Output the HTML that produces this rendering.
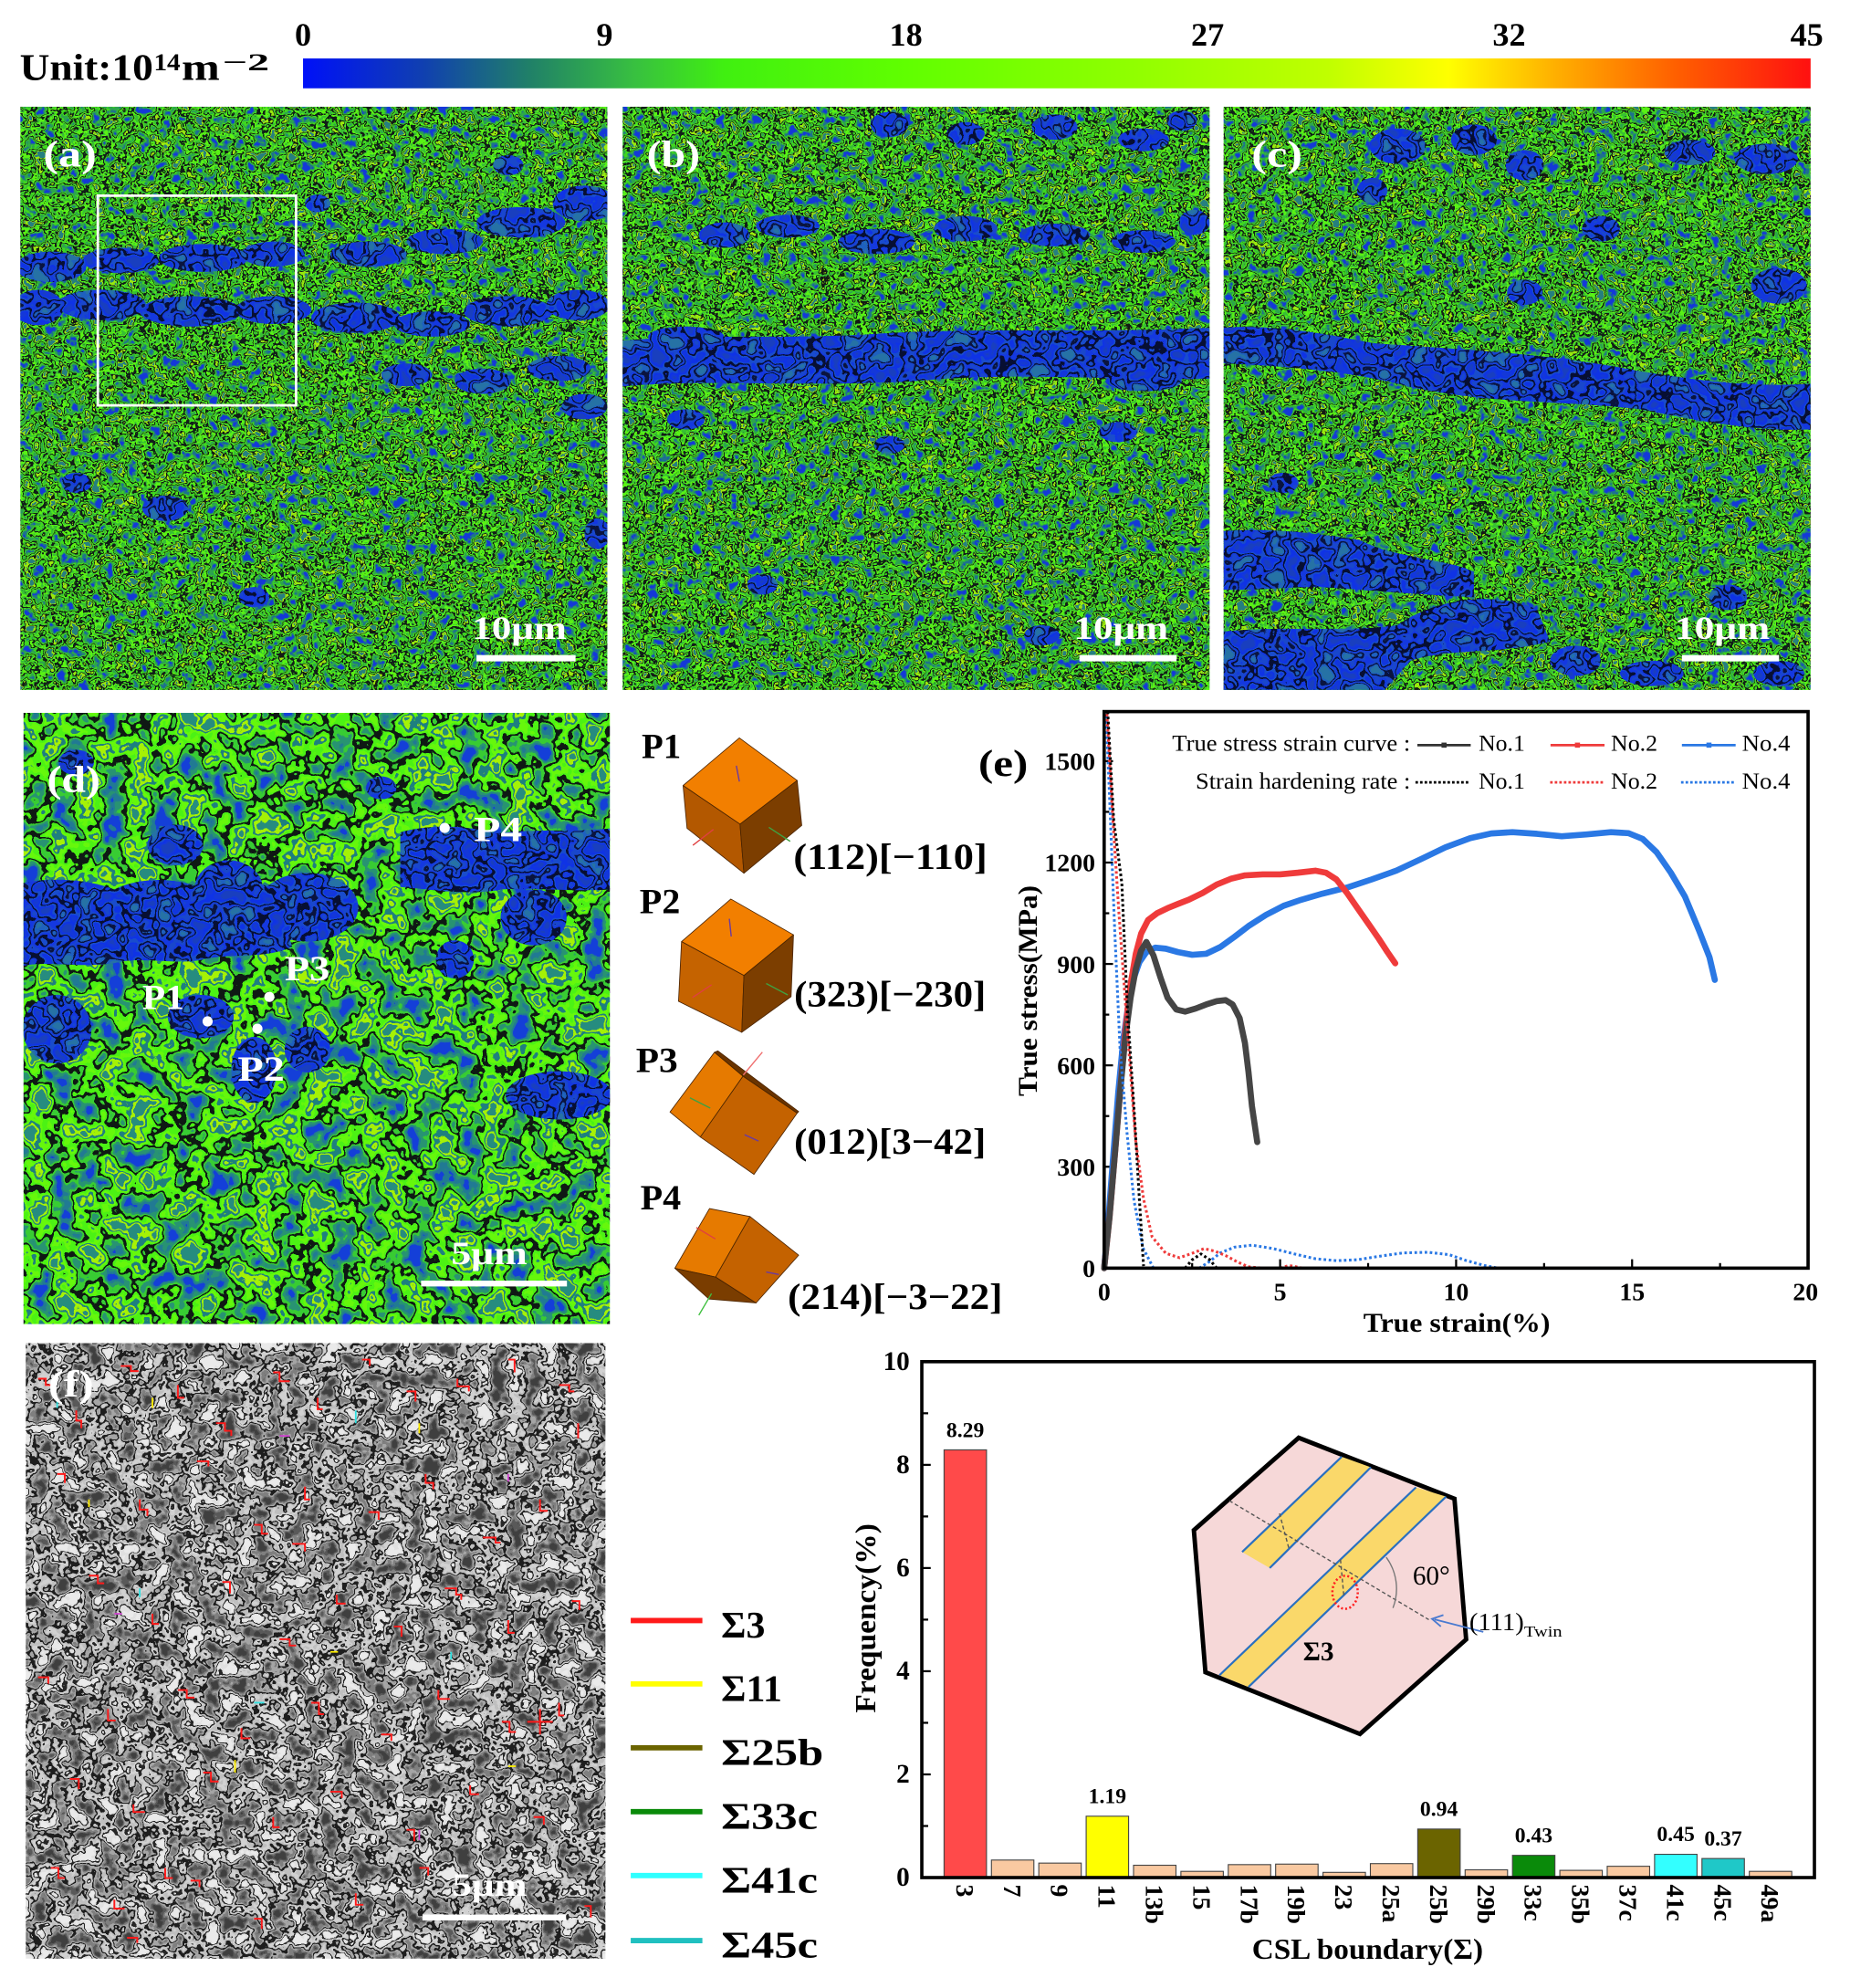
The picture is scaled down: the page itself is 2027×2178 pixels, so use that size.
<!DOCTYPE html>
<html><head><meta charset="utf-8">
<style>
html,body{margin:0;padding:0;background:#fff;}
svg{display:block;font-family:"Liberation Serif","Times New Roman",serif;}
text{font-family:"Liberation Serif","Times New Roman",serif;}
</style></head>
<body>
<svg xmlns="http://www.w3.org/2000/svg" width="2027" height="2178" viewBox="0 0 1456 1564.5" preserveAspectRatio="none" font-family="Liberation Serif, serif">
<defs>
  <linearGradient id="cb" x1="0" y1="0" x2="1" y2="0">
    <stop offset="0" stop-color="#0010f8"/>
    <stop offset="0.08" stop-color="#1040b0"/>
    <stop offset="0.15" stop-color="#208068"/>
    <stop offset="0.22" stop-color="#38c040"/>
    <stop offset="0.28" stop-color="#40f010"/>
    <stop offset="0.4" stop-color="#60ff00"/>
    <stop offset="0.55" stop-color="#90ff00"/>
    <stop offset="0.68" stop-color="#c0ff00"/>
    <stop offset="0.76" stop-color="#ffff00"/>
    <stop offset="0.83" stop-color="#ffb000"/>
    <stop offset="0.91" stop-color="#ff6000"/>
    <stop offset="1" stop-color="#ff1010"/>
  </linearGradient>

  <filter id="tA" x="0" y="0" width="1" height="1" color-interpolation-filters="sRGB">
    <feTurbulence type="fractalNoise" baseFrequency="0.11" numOctaves="3" seed="7"/>
    <feColorMatrix type="matrix" values="1.8 0 0 0 -0.4  1.8 0 0 0 -0.4  1.8 0 0 0 -0.4  0 0 0 0 1"/>
    <feComponentTransfer>
      <feFuncR type="discrete" tableValues="0.08 0.12 0.18 0.25 0.07 0.35 0.22 0.08 0.6 0.15"/>
      <feFuncG type="discrete" tableValues="0.22 0.45 0.65 0.85 0.12 0.95 0.75 0.1 0.92 0.5"/>
      <feFuncB type="discrete" tableValues="0.85 0.55 0.3 0.12 0.1 0.08 0.2 0.08 0.05 0.5"/>
    </feComponentTransfer>
    <feComposite operator="in" in2="SourceGraphic"/>
  </filter>

  <filter id="tD" x="0" y="0" width="1" height="1" color-interpolation-filters="sRGB">
    <feTurbulence type="fractalNoise" baseFrequency="0.05" numOctaves="3" seed="3"/>
    <feColorMatrix type="matrix" values="1.8 0 0 0 -0.4  1.8 0 0 0 -0.4  1.8 0 0 0 -0.4  0 0 0 0 1"/>
    <feComponentTransfer>
      <feFuncR type="discrete" tableValues="0.08 0.13 0.16 0.22 0.06 0.3 0.4 0.12 0.65 0.15"/>
      <feFuncG type="discrete" tableValues="0.25 0.48 0.58 0.8 0.1 0.95 0.97 0.5 0.95 0.55"/>
      <feFuncB type="discrete" tableValues="0.85 0.58 0.45 0.2 0.08 0.08 0.05 0.5 0.02 0.5"/>
    </feComponentTransfer>
    <feComposite operator="in" in2="SourceGraphic"/>
  </filter>

  <filter id="tB" x="-0.05" y="-0.05" width="1.1" height="1.1" color-interpolation-filters="sRGB">
    <feTurbulence type="fractalNoise" baseFrequency="0.08" numOctaves="2" seed="11"/>
    <feColorMatrix type="matrix" values="1.8 0 0 0 -0.4  1.8 0 0 0 -0.4  1.8 0 0 0 -0.4  0 0 0 0 1"/>
    <feComponentTransfer>
      <feFuncR type="discrete" tableValues="0.1 0.08 0.06 0.1 0.03 0.08 0.1 0.04 0.12 0.15"/>
      <feFuncG type="discrete" tableValues="0.25 0.22 0.2 0.3 0.06 0.22 0.28 0.08 0.38 0.45"/>
      <feFuncB type="discrete" tableValues="0.75 0.85 0.9 0.8 0.2 0.88 0.8 0.25 0.75 0.65"/>
    </feComponentTransfer>
    <feComposite operator="in" in2="SourceGraphic"/>
  </filter>

  <filter id="tF" x="0" y="0" width="1" height="1" color-interpolation-filters="sRGB">
    <feTurbulence type="fractalNoise" baseFrequency="0.075" numOctaves="3" seed="5"/>
    <feColorMatrix type="matrix" values="1.8 0 0 0 -0.4  1.8 0 0 0 -0.4  1.8 0 0 0 -0.4  0 0 0 0 1"/>
    <feComponentTransfer>
      <feFuncR type="discrete" tableValues="0.25 0.35 0.5 0.65 0.12 0.75 0.82 0.15 0.88 0.92"/>
      <feFuncG type="discrete" tableValues="0.25 0.35 0.5 0.65 0.12 0.75 0.82 0.15 0.88 0.92"/>
      <feFuncB type="discrete" tableValues="0.25 0.35 0.5 0.65 0.12 0.75 0.82 0.15 0.88 0.92"/>
    </feComponentTransfer>
    <feComposite operator="in" in2="SourceGraphic"/>
  </filter>

  <clipPath id="ca"><rect x="16" y="84" width="462" height="459"/></clipPath>
  <clipPath id="cbp"><rect x="490" y="84" width="462" height="459"/></clipPath>
  <clipPath id="cc"><rect x="963" y="84" width="462" height="459"/></clipPath>
  <clipPath id="cd"><rect x="18.5" y="561" width="461.5" height="481"/></clipPath>
</defs>

<rect x="0" y="0" width="1456" height="1564.5" fill="#fff"/>

<!-- ===== Colorbar ===== -->
<text x="15.5" y="62.7" font-size="30" font-weight="bold" textLength="105" lengthAdjust="spacingAndGlyphs">Unit:10</text>
<text x="121" y="55.5" font-size="19" font-weight="bold" textLength="21" lengthAdjust="spacingAndGlyphs">14</text>
<text x="143" y="62.7" font-size="30" font-weight="bold" textLength="30" lengthAdjust="spacingAndGlyphs">m</text>
<text x="175" y="55.5" font-size="19" font-weight="bold" textLength="37" lengthAdjust="spacingAndGlyphs">−2</text>
<rect x="238.5" y="46" width="1186.5" height="23.5" fill="url(#cb)"/>
<g font-size="26" font-weight="bold" text-anchor="middle">
  <text x="238.5" y="36">0</text>
  <text x="475.8" y="36">9</text>
  <text x="713" y="36">18</text>
  <text x="950.4" y="36">27</text>
  <text x="1187.7" y="36">32</text>
  <text x="1422" y="36">45</text>
</g>

<!-- ===== Panels a, b, c ===== -->
<rect x="16" y="84" width="462" height="459" fill="#3a9a3a" filter="url(#tA)"/>
<rect x="490" y="84" width="462" height="459" fill="#3a9a3a" filter="url(#tA)"/>
<rect x="963" y="84" width="462" height="459" fill="#3a9a3a" filter="url(#tA)"/>

<g clip-path="url(#ca)"><g filter="url(#tB)" fill="#1535d0">
  <ellipse cx="40" cy="210" rx="28" ry="12"/><ellipse cx="95" cy="205" rx="30" ry="10"/>
  <ellipse cx="160" cy="203" rx="35" ry="11"/><ellipse cx="215" cy="200" rx="25" ry="10"/>
  <ellipse cx="30" cy="242" rx="20" ry="14"/><ellipse cx="80" cy="240" rx="35" ry="12"/>
  <ellipse cx="150" cy="245" rx="40" ry="12"/><ellipse cx="215" cy="244" rx="30" ry="11"/>
  <ellipse cx="280" cy="250" rx="35" ry="12"/><ellipse cx="340" cy="255" rx="30" ry="10"/>
  <ellipse cx="400" cy="245" rx="35" ry="12"/><ellipse cx="455" cy="240" rx="25" ry="12"/>
  <ellipse cx="290" cy="200" rx="30" ry="10"/><ellipse cx="350" cy="190" rx="30" ry="10"/>
  <ellipse cx="410" cy="175" rx="35" ry="12"/><ellipse cx="460" cy="160" rx="25" ry="14"/>
  <ellipse cx="320" cy="295" rx="20" ry="9"/><ellipse cx="380" cy="300" rx="22" ry="10"/>
  <ellipse cx="440" cy="290" rx="25" ry="10"/><ellipse cx="460" cy="320" rx="18" ry="10"/>
  <ellipse cx="130" cy="400" rx="18" ry="10"/><ellipse cx="60" cy="380" rx="12" ry="8"/>
  <ellipse cx="470" cy="420" rx="10" ry="12"/><ellipse cx="200" cy="470" rx="12" ry="8"/>
  <ellipse cx="400" cy="130" rx="12" ry="8"/><ellipse cx="250" cy="160" rx="10" ry="7"/>
</g></g>

<g clip-path="url(#cbp)"><g filter="url(#tB)" fill="#1535d0">
  <path d="M490,268 C560,262 620,268 700,262 C780,258 860,262 952,258 L952,298 C880,300 800,292 720,300 C640,305 560,298 490,304 Z"/>
  <ellipse cx="540" cy="265" rx="30" ry="8"/><ellipse cx="900" cy="300" rx="30" ry="8"/>
  <ellipse cx="570" cy="185" rx="20" ry="10"/><ellipse cx="620" cy="178" rx="25" ry="9"/>
  <ellipse cx="690" cy="190" rx="30" ry="10"/><ellipse cx="760" cy="180" rx="25" ry="10"/>
  <ellipse cx="830" cy="185" rx="28" ry="9"/><ellipse cx="900" cy="190" rx="25" ry="9"/>
  <ellipse cx="940" cy="175" rx="12" ry="10"/>
  <ellipse cx="700" cy="98" rx="15" ry="10"/><ellipse cx="760" cy="105" rx="15" ry="9"/>
  <ellipse cx="830" cy="100" rx="18" ry="10"/><ellipse cx="900" cy="110" rx="20" ry="9"/>
  <ellipse cx="930" cy="95" rx="12" ry="8"/>
  <ellipse cx="540" cy="330" rx="15" ry="8"/><ellipse cx="700" cy="350" rx="12" ry="7"/>
  <ellipse cx="880" cy="340" rx="15" ry="8"/><ellipse cx="600" cy="460" rx="12" ry="8"/>
  <ellipse cx="820" cy="500" rx="14" ry="8"/>
</g></g>

<g clip-path="url(#cc)"><g filter="url(#tB)" fill="#1535d0">
  <path d="M963,258 C1000,255 1040,262 1080,270 C1150,275 1220,278 1290,292 C1340,300 1380,305 1425,302 L1425,338 C1380,340 1330,330 1290,322 C1230,315 1160,318 1100,302 C1060,292 1010,288 963,286 Z"/>
  <ellipse cx="1100" cy="115" rx="22" ry="14"/><ellipse cx="1160" cy="110" rx="18" ry="12"/>
  <ellipse cx="1200" cy="130" rx="15" ry="12"/><ellipse cx="1330" cy="120" rx="20" ry="10"/>
  <ellipse cx="1390" cy="125" rx="25" ry="12"/><ellipse cx="1400" cy="225" rx="22" ry="14"/>
  <ellipse cx="1080" cy="150" rx="12" ry="10"/><ellipse cx="1260" cy="180" rx="15" ry="10"/>
  <path d="M963,418 C1000,415 1040,420 1070,425 C1100,440 1140,440 1160,450 L1160,470 C1120,468 1080,465 1040,462 C1010,462 985,465 963,464 Z"/>
  <path d="M963,497 C1010,492 1060,498 1100,492 C1130,470 1180,465 1210,480 L1220,505 C1180,515 1140,510 1110,520 L1090,543 L963,543 Z"/>
  <ellipse cx="1240" cy="520" rx="20" ry="12"/><ellipse cx="1300" cy="530" rx="25" ry="10"/>
  <ellipse cx="1360" cy="470" rx="15" ry="10"/><ellipse cx="1400" cy="530" rx="20" ry="10"/>
  <ellipse cx="1010" cy="380" rx="12" ry="8"/><ellipse cx="1200" cy="230" rx="14" ry="10"/>
</g></g>

<rect x="77" y="154" width="156" height="165" fill="none" stroke="#fff" stroke-width="2"/>

<g fill="#fff" font-weight="bold">
  <text x="34" y="131" font-size="30" textLength="42" lengthAdjust="spacingAndGlyphs">(a)</text>
  <text x="509" y="131" font-size="30" textLength="42" lengthAdjust="spacingAndGlyphs">(b)</text>
  <text x="985" y="131" font-size="30" textLength="40" lengthAdjust="spacingAndGlyphs">(c)</text>
  <text x="371.5" y="503" font-size="26" textLength="74.5" lengthAdjust="spacingAndGlyphs">10μm</text>
  <text x="845" y="503" font-size="26" textLength="74.5" lengthAdjust="spacingAndGlyphs">10μm</text>
  <text x="1318" y="503" font-size="26" textLength="75" lengthAdjust="spacingAndGlyphs">10μm</text>
  <rect x="375" y="515.5" width="78" height="5"/>
  <rect x="849.5" y="515.5" width="76.5" height="5"/>
  <rect x="1323.7" y="515.5" width="76.5" height="5"/>
</g>

<!-- ===== Panel d ===== -->
<rect x="18.5" y="561" width="461.5" height="481" fill="#3a9a3a" filter="url(#tD)"/>
<g clip-path="url(#cd)"><g filter="url(#tB)" fill="#1535d0">
  <ellipse cx="138" cy="665" rx="22" ry="16"/>
  <path d="M18,695 C40,690 70,692 90,700 C110,690 140,690 160,700 C175,695 200,690 215,700 L230,745 C210,755 180,750 160,755 C140,760 110,752 90,758 C60,762 40,756 18,760 Z"/>
  <ellipse cx="242" cy="714" rx="40" ry="27"/>
  <ellipse cx="180" cy="700" rx="27" ry="23"/>
  <path d="M315,655 C340,648 370,650 390,656 C420,652 450,655 480,652 L480,700 C450,702 420,698 395,700 C370,705 340,700 315,698 Z"/>
  <ellipse cx="420" cy="722" rx="26" ry="22"/>
  <ellipse cx="158" cy="800" rx="26" ry="17"/>
  <ellipse cx="200" cy="842" rx="18" ry="26"/>
  <ellipse cx="242" cy="826" rx="18" ry="18"/>
  <ellipse cx="45" cy="810" rx="27" ry="27"/>
  <ellipse cx="440" cy="862" rx="42" ry="19"/>
  <ellipse cx="358" cy="755" rx="15" ry="15"/>
  <ellipse cx="60" cy="600" rx="14" ry="10"/>
  <ellipse cx="300" cy="620" rx="12" ry="9"/>
</g></g>
<g fill="#fff" font-weight="bold">
  <text x="37" y="623" font-size="30" textLength="42" lengthAdjust="spacingAndGlyphs">(d)</text>
  <circle cx="350" cy="651.6" r="4"/>
  <circle cx="212" cy="784.5" r="4"/>
  <circle cx="163.4" cy="803.8" r="4"/>
  <circle cx="202.6" cy="809.6" r="4"/>
  <text x="373" y="662" font-size="28" textLength="38" lengthAdjust="spacingAndGlyphs">P4</text>
  <text x="224" y="771.6" font-size="28" textLength="35.5" lengthAdjust="spacingAndGlyphs">P3</text>
  <text x="112" y="794" font-size="28" textLength="33" lengthAdjust="spacingAndGlyphs">P1</text>
  <text x="187" y="850.6" font-size="28" textLength="37" lengthAdjust="spacingAndGlyphs">P2</text>
  <text x="355" y="995" font-size="26" textLength="60" lengthAdjust="spacingAndGlyphs">5μm</text>
  <rect x="331.4" y="1007.8" width="114.8" height="4.6"/>
</g>

<!-- ===== Cubes ===== -->
<g stroke="#4a2400" stroke-width="0.6" stroke-linejoin="round">
  <polygon points="581.9,580.7 627.4,614.2 582.4,648.6 537.6,618.2" fill="#f27f00"/>
  <polygon points="537.6,618.2 582.4,648.6 585.5,687.2 540.7,651.8" fill="#b35800"/>
  <polygon points="582.4,648.6 627.4,614.2 631,649.6 585.5,687.2" fill="#7c3e00"/>

  <polygon points="575.2,707.5 624.5,735.7 585.5,767.7 536.4,741" fill="#f27f00"/>
  <polygon points="536.4,741 585.5,767.7 583.8,812.4 534,788" fill="#c56300"/>
  <polygon points="585.5,767.7 624.5,735.7 622.6,784.3 583.8,812.4" fill="#7c3e00"/>

  <polygon points="562.3,828.1 584.8,846.9 551.2,894.8 527.3,875.1" fill="#e67a00"/>
  <polygon points="584.8,846.9 627.4,876 593.4,924.2 551.2,894.8" fill="#c46200"/>
  <polygon points="562.3,828.1 565,827 628.6,874.8 627.4,876 584.8,846.9" fill="#6a3400"/>

  <polygon points="558.4,951.1 590.3,957.4 563.2,1005 531.1,998.1" fill="#e67a00"/>
  <polygon points="590.3,957.4 628.6,987.8 595,1025.4 563.2,1005" fill="#c46200"/>
  <polygon points="531.1,998.1 563.2,1005 595,1025.4 558,1022.3" fill="#7a3d00"/>
</g>
<g stroke-width="1" fill="none">
  <line x1="579.5" y1="602.6" x2="581.9" y2="615.1" stroke="#6a3aa0"/>
  <line x1="545.3" y1="665.2" x2="561.5" y2="652.7" stroke="#e04040"/>
  <line x1="605.1" y1="651.1" x2="621.9" y2="662.1" stroke="#40a040"/>
  <line x1="574" y1="723" x2="575.5" y2="737" stroke="#6a3aa0"/>
  <line x1="545" y1="785" x2="560" y2="775" stroke="#e04040"/>
  <line x1="603" y1="774" x2="620" y2="783" stroke="#40a040"/>
  <line x1="543" y1="864" x2="559" y2="872" stroke="#40a040"/>
  <line x1="585" y1="846" x2="600" y2="828" stroke="#f07070"/>
  <line x1="586" y1="893" x2="597" y2="898" stroke="#6a3aa0"/>
  <line x1="548" y1="966" x2="563" y2="975" stroke="#e04040"/>
  <line x1="603" y1="1001" x2="613" y2="1003" stroke="#6a3aa0"/>
  <line x1="560" y1="1018" x2="550" y2="1035" stroke="#40c040"/>
</g>
<g font-weight="bold" fill="#000">
  <text x="505" y="596.4" font-size="28" textLength="31" lengthAdjust="spacingAndGlyphs">P1</text>
  <text x="503.4" y="718.6" font-size="28" textLength="32" lengthAdjust="spacingAndGlyphs">P2</text>
  <text x="500.5" y="843.8" font-size="28" textLength="33" lengthAdjust="spacingAndGlyphs">P3</text>
  <text x="504" y="951.8" font-size="28" textLength="32" lengthAdjust="spacingAndGlyphs">P4</text>
  <text x="624.5" y="684" font-size="29" textLength="152.5" lengthAdjust="spacingAndGlyphs">(112)[−110]</text>
  <text x="625" y="792" font-size="29" textLength="151" lengthAdjust="spacingAndGlyphs">(323)[−230]</text>
  <text x="625" y="908" font-size="29" textLength="151" lengthAdjust="spacingAndGlyphs">(012)[3−42]</text>
  <text x="620" y="1030" font-size="29" textLength="169" lengthAdjust="spacingAndGlyphs">(214)[−3−22]</text>
</g>

<!-- ===== Chart e ===== -->
<text x="770" y="610.6" font-size="30" font-weight="bold" textLength="39" lengthAdjust="spacingAndGlyphs">(e)</text>
<g stroke="#000" stroke-width="1.6">
  <line x1="869" y1="998" x2="876" y2="998"/><line x1="869" y1="918.2" x2="876" y2="918.2"/>
  <line x1="869" y1="838.4" x2="876" y2="838.4"/><line x1="869" y1="758.6" x2="876" y2="758.6"/>
  <line x1="869" y1="678.8" x2="876" y2="678.8"/><line x1="869" y1="599" x2="876" y2="599"/>
  <line x1="869" y1="958.1" x2="873" y2="958.1"/><line x1="869" y1="878.3" x2="873" y2="878.3"/>
  <line x1="869" y1="798.5" x2="873" y2="798.5"/><line x1="869" y1="718.7" x2="873" y2="718.7"/>
  <line x1="869" y1="638.9" x2="873" y2="638.9"/>
  <line x1="1007.5" y1="998" x2="1007.5" y2="991"/><line x1="1146" y1="998" x2="1146" y2="991"/>
  <line x1="1284.5" y1="998" x2="1284.5" y2="991"/>
  <line x1="938.25" y1="998" x2="938.25" y2="994"/><line x1="1076.75" y1="998" x2="1076.75" y2="994"/>
  <line x1="1215.25" y1="998" x2="1215.25" y2="994"/><line x1="1353.75" y1="998" x2="1353.75" y2="994"/>
</g>
<g font-size="20" font-weight="bold" text-anchor="end">
  <text x="862" y="1005">0</text>
  <text x="862" y="925.2">300</text>
  <text x="862" y="845.4">600</text>
  <text x="862" y="765.6">900</text>
  <text x="862" y="685.8">1200</text>
  <text x="862" y="606">1500</text>
</g>
<g font-size="20" font-weight="bold" text-anchor="middle">
  <text x="869" y="1023.4">0</text>
  <text x="1007.5" y="1023.4">5</text>
  <text x="1146" y="1023.4">10</text>
  <text x="1284.5" y="1023.4">15</text>
  <text x="1421" y="1023.4">20</text>
</g>
<text x="1146.5" y="1048" font-size="21" font-weight="bold" text-anchor="middle" textLength="147" lengthAdjust="spacingAndGlyphs">True strain(%)</text>
<text transform="translate(816,779.7) rotate(-90)" font-size="21" font-weight="bold" text-anchor="middle" textLength="166" lengthAdjust="spacingAndGlyphs">True stress(MPa)</text>

<!-- curves -->
<g fill="none" stroke-linejoin="round" stroke-linecap="round">
  <polyline stroke="#2a78e4" stroke-width="4.8" points="869,998 871.8,966.1 875.9,912.9 880.1,859.7 884.2,817.1 888.4,787.9 892.5,769.2 896.7,757.3 902.2,749.3 909.2,745.8 917.5,746.6 927.2,749.3 938.3,751.4 949.3,750.6 960.4,745.3 971.5,737.3 982.6,728.8 996.4,720 1010.3,712.8 1024.1,708.1 1040.7,703.3 1060.1,698.5 1079.5,692.1 1098.9,685.2 1118.3,676.1 1137.7,666.8 1157.1,659.6 1173.7,655.9 1190.3,654.9 1209.7,656.2 1229.1,658.1 1248.5,656.7 1267.9,654.9 1281.7,655.7 1292.8,660.2 1303.9,670.8 1315,686.8 1326,705.4 1337.1,732 1345.4,753.3 1349.6,771.1"/>
  <polyline stroke="#ef3b3b" stroke-width="4.8" points="869,998 873.2,958.1 877.3,910.2 881.5,859.7 885.6,811.8 889.8,774.6 893.9,750.6 898.1,734.7 903.6,724 910.6,718.7 918.9,714.7 927.2,711.3 935.5,708.1 946.6,702.7 957.6,696.1 968.7,691.6 979.8,688.9 993.7,688.1 1007.5,688.1 1021.4,686.8 1035.2,685.2 1043.5,686.8 1051.8,692.1 1060.1,702.7 1068.4,714.7 1076.8,726.7 1085.1,738.7 1092,749.3 1098.1,758.1"/>
  <polyline stroke="#454545" stroke-width="4.8" points="869,998 873.2,958.1 877.3,910.2 881.5,859.7 885.6,817.1 889.8,785.2 893.9,762.6 898.1,748 902.2,741.3 907.8,751.9 913.3,769.2 918.9,785.2 925.8,794.5 932.7,796.1 941,793.7 949.3,790.5 957.6,787.9 964.6,787.1 970.1,790.5 975.6,801.2 979.8,820.8 982.6,843.7 985.3,870.3 989.5,898.8"/>
  <g stroke-width="2.2" stroke-dasharray="2 2" stroke-linecap="butt">
    <polyline stroke="#2a78e4" points="870.4,559.5 873.2,625.6 877.3,732 881.5,825.1 887,891.6 892.5,944.8 899.5,982 907.8,998"/>
    <polyline stroke="#2a78e4" points="943.8,998 952.1,992.7 960.4,986 971.5,981.5 985.3,979.9 1002,982.6 1018.6,986.8 1035.2,990.6 1051.8,992.1 1068.4,991.4 1085.1,988.7 1104.5,986 1123.8,985.5 1140.5,987.4 1154.3,992.1 1168.2,995.9 1179.2,998"/>
    <polyline stroke="#2a78e4" points="1250,998 1262,998"/>
    <polyline stroke="#ef3b3b" points="871.2,561.8 875.1,632.3 880.6,718.2 887.3,811 893.7,896.9 900,943.5 906.7,973.3 917.5,986.3 928.3,989.8 938.3,986.3 947.7,982.6 956.3,984.7 964.8,988.2 973.7,993 982.3,996.9 993.7,998"/>
    <polyline stroke="#ef3b3b" points="1007.5,998 1014.4,995.9 1025.5,998"/>
    <polyline stroke="#000" points="871.8,560 876.5,645.3 882.9,695 887.3,794.2 892.8,877.2 896.7,943.5 900,996.4"/>
    <polyline stroke="#000" points="932.7,998 938.3,991.4 945.2,986.8 952.1,991.4 957.6,998"/>
  </g>
</g>
<rect x="869" y="560" width="554" height="438" fill="none" stroke="#000" stroke-width="2.6"/>

<!-- legend e -->
<g font-size="18.5">
  <text x="922.5" y="590.7" textLength="187.5" lengthAdjust="spacingAndGlyphs">True stress strain curve :</text>
  <text x="941" y="620.5" textLength="169" lengthAdjust="spacingAndGlyphs">Strain hardening rate :</text>
  <text x="1163.7" y="590.7" textLength="36.5" lengthAdjust="spacingAndGlyphs">No.1</text>
  <text x="1267.8" y="590.7" textLength="36.7" lengthAdjust="spacingAndGlyphs">No.2</text>
  <text x="1371" y="590.7" textLength="38" lengthAdjust="spacingAndGlyphs">No.4</text>
  <text x="1163.7" y="620.5" textLength="36.5" lengthAdjust="spacingAndGlyphs">No.1</text>
  <text x="1267.8" y="620.5" textLength="36.7" lengthAdjust="spacingAndGlyphs">No.2</text>
  <text x="1371" y="620.5" textLength="38" lengthAdjust="spacingAndGlyphs">No.4</text>
</g>
<g stroke-width="2">
  <line x1="1115.5" y1="586.4" x2="1157.5" y2="586.4" stroke="#333"/>
  <rect x="1134.5" y="584.4" width="4" height="4" fill="#333"/>
  <line x1="1220.3" y1="586.4" x2="1262.8" y2="586.4" stroke="#ef3b3b"/>
  <rect x="1239.5" y="584.4" width="4" height="4" fill="#ef3b3b"/>
  <line x1="1323.7" y1="586.4" x2="1366" y2="586.4" stroke="#2a78e4"/>
  <rect x="1343" y="584.4" width="4" height="4" fill="#2a78e4"/>
  <g stroke-dasharray="2 1.6">
    <line x1="1114" y1="615.7" x2="1156" y2="615.7" stroke="#000"/>
    <line x1="1220" y1="615.7" x2="1262" y2="615.7" stroke="#ef3b3b"/>
    <line x1="1323" y1="615.7" x2="1365" y2="615.7" stroke="#2a78e4"/>
  </g>
</g>

<!-- ===== Panel f ===== -->
<rect x="20.3" y="1057" width="456.2" height="484.4" fill="#808080" filter="url(#tF)"/>
<path fill="none" stroke="#ff1a1a" stroke-width="1.4" d="M30 1085 h6 v5 h5 M60 1110 v8 h4 v6 M95 1075 h8 v4 h6 M140 1090 v10 h5 M170 1120 h7 v6 h5 v4 M215 1080 h5 v7 h8 M250 1100 v9 h4 M285 1070 h6 v5 M320 1095 h7 v8 M360 1085 v6 h9 v4 M400 1070 h5 v10 M440 1090 h8 v5 h4 M455 1120 v12 M45 1160 h6 v7 M110 1180 v8 h6 v5 M155 1150 h9 v4 M200 1200 h6 v7 h5 M240 1170 v10 h4 M290 1190 h8 v6 M335 1160 v7 h6 v5 M380 1210 h10 v4 h4 M425 1180 v9 h6 M70 1240 h7 v6 h5 M120 1270 v8 h5 M175 1245 h6 v9 M220 1290 h8 v5 h5 M265 1255 v7 h7 M310 1280 h6 v8 M350 1250 h9 v5 h4 v4 M400 1275 v10 h5 M450 1260 h6 v7 M30 1320 h8 v5 M85 1345 v9 h6 M140 1330 h7 v6 h6 M190 1360 v8 h7 M245 1340 h6 v9 h4 M300 1365 h8 v5 M345 1330 v7 h9 M395 1355 h6 v8 h5 M440 1340 v10 h4 M55 1400 h7 v8 M105 1420 v6 h9 M160 1395 h6 v7 h6 M215 1430 v8 h5 M260 1410 h9 v5 M320 1440 h6 v9 M370 1405 v7 h7 M420 1430 h8 v6 M40 1470 h6 v8 h5 M90 1495 v7 h8 M150 1480 h7 v5 M200 1510 h6 v8 M280 1490 v9 h6 M330 1470 h7 v6 M460 1500 h5 v9 M100 1525 h8 v4 M415 1355 h20 M425 1345 v20 M230 1215 h10 v6 M130 1470 v8 h6"/>
<path fill="none" stroke="#ffee00" stroke-width="1.3" d="M120 1100 v8 M185 1385 v10 M260 1300 h6 M70 1180 v6 M400 1390 h6 M330 1120 v8"/>
<path fill="none" stroke="#30e0e0" stroke-width="1.3" d="M45 1100 v8 M280 1110 v10 M200 1340 h8 M110 1250 v7 M355 1300 v6"/>
<path fill="none" stroke="#d040d0" stroke-width="1.3" d="M220 1130 h8 M330 1440 v8 M90 1270 h6 M400 1160 v6"/>
<g fill="#fff" font-weight="bold">
  <text x="38" y="1099" font-size="30" textLength="36" lengthAdjust="spacingAndGlyphs">(f)</text>
  <text x="355.8" y="1491.9" font-size="26" textLength="59" lengthAdjust="spacingAndGlyphs">5μm</text>
  <rect x="332.5" y="1506.7" width="113" height="4.6"/>
</g>

<!-- Σ legend -->
<g stroke-width="4.2">
  <line x1="496.4" y1="1275.3" x2="552.8" y2="1275.3" stroke="#ff1a1a"/>
  <line x1="496.4" y1="1325.2" x2="552.8" y2="1325.2" stroke="#ffff00"/>
  <line x1="496.4" y1="1375.5" x2="552.8" y2="1375.5" stroke="#6b6400"/>
  <line x1="496.4" y1="1425.7" x2="552.8" y2="1425.7" stroke="#0a8a0a"/>
  <line x1="496.4" y1="1476" x2="552.8" y2="1476" stroke="#30ffff"/>
  <line x1="496.4" y1="1527.2" x2="552.8" y2="1527.2" stroke="#20c0c0"/>
</g>
<g font-size="30" font-weight="bold">
  <text x="567.6" y="1288.5">Σ3</text>
  <text x="567.6" y="1338.5">Σ11</text>
  <text x="567.6" y="1388.8" textLength="80.5" lengthAdjust="spacingAndGlyphs">Σ25b</text>
  <text x="567.6" y="1439" textLength="76" lengthAdjust="spacingAndGlyphs">Σ33c</text>
  <text x="567.6" y="1489.3" textLength="76" lengthAdjust="spacingAndGlyphs">Σ41c</text>
  <text x="567.6" y="1540.5" textLength="76" lengthAdjust="spacingAndGlyphs">Σ45c</text>
</g>

<!-- ===== Bar chart ===== -->
<g stroke="#444" stroke-width="0.8">
  <rect x="743" y="1141" width="33.4" height="336.6" fill="#ff4a4a"/>
  <rect x="780.28" y="1463.8" width="33.4" height="13.8" fill="#f9c9a1"/>
  <rect x="817.56" y="1466.2" width="33.4" height="11.4" fill="#f9c9a1"/>
  <rect x="854.84" y="1429.3" width="33.4" height="48.3" fill="#ffff00"/>
  <rect x="892.12" y="1467.9" width="33.4" height="9.7" fill="#f9c9a1"/>
  <rect x="929.4" y="1472.7" width="33.4" height="4.9" fill="#f9c9a1"/>
  <rect x="966.68" y="1467.4" width="33.4" height="10.2" fill="#f9c9a1"/>
  <rect x="1003.96" y="1467" width="33.4" height="10.6" fill="#f9c9a1"/>
  <rect x="1041.24" y="1473.5" width="33.4" height="4.1" fill="#f9c9a1"/>
  <rect x="1078.52" y="1466.6" width="33.4" height="11" fill="#f9c9a1"/>
  <rect x="1115.8" y="1439.4" width="33.4" height="38.2" fill="#6b6400"/>
  <rect x="1153.08" y="1471.5" width="33.4" height="6.1" fill="#f9c9a1"/>
  <rect x="1190.36" y="1460.1" width="33.4" height="17.5" fill="#0a8a0a"/>
  <rect x="1227.64" y="1471.9" width="33.4" height="5.7" fill="#f9c9a1"/>
  <rect x="1264.92" y="1468.7" width="33.4" height="8.9" fill="#f9c9a1"/>
  <rect x="1302.2" y="1459.3" width="33.4" height="18.3" fill="#33ffff"/>
  <rect x="1339.48" y="1462.6" width="33.4" height="15" fill="#1fc8c8"/>
  <rect x="1376.76" y="1472.7" width="33.4" height="4.9" fill="#f9c9a1"/>
</g>
<g font-size="17" font-weight="bold" text-anchor="middle">
  <text x="759.7" y="1131">8.29</text>
  <text x="871.54" y="1419">1.19</text>
  <text x="1132.5" y="1429">0.94</text>
  <text x="1207.06" y="1450">0.43</text>
  <text x="1318.9" y="1449">0.45</text>
  <text x="1356.18" y="1452.5">0.37</text>
</g>

<!-- inset hexagon -->
<polygon points="1022.1,1131.5 1144.7,1179.5 1153.9,1290.2 1070.3,1364.6 948.7,1316 939.6,1204.2" fill="#f6d8d8" stroke="#000" stroke-width="3.5" stroke-linejoin="miter"/>
<polygon points="977.6,1221.4 1056,1146.4 1078.9,1154.7 999.3,1234" fill="#fad86a"/>
<polygon points="959.8,1318.3 1114.4,1170.5 1138.1,1177.8 982.6,1327.6" fill="#fad86a"/>
<g stroke="#2a70c0" stroke-width="1.6">
  <line x1="977.6" y1="1221.4" x2="1056" y2="1146.4"/>
  <line x1="999.3" y1="1234" x2="1078.9" y2="1154.7"/>
  <line x1="959.8" y1="1318.3" x2="1114.4" y2="1170.5"/>
  <line x1="982.6" y1="1327.6" x2="1138.1" y2="1177.8"/>
</g>
<g stroke="#555" stroke-width="1" stroke-dasharray="3 2" fill="none">
  <line x1="967.5" y1="1181" x2="1124.5" y2="1274.6"/>
  <line x1="1007" y1="1191" x2="1014.5" y2="1219"/>
  <line x1="1055" y1="1227.4" x2="1057.6" y2="1255.5"/>
</g>
<ellipse cx="1058.6" cy="1253.1" rx="10" ry="13" fill="none" stroke="#ff2020" stroke-width="1.8" stroke-dasharray="1.5 1.8"/>
<path d="M1091,1225.5 A42,42 0 0 1 1096.3,1265.4" fill="none" stroke="#777" stroke-width="1"/>
<line x1="1167.4" y1="1284.3" x2="1129" y2="1274.4" stroke="#4a7ad0" stroke-width="1.3"/>
<polyline points="1136,1271 1127,1274 1134,1280" fill="none" stroke="#4a7ad0" stroke-width="1.3"/>
<text x="1111.8" y="1247" font-size="21">60°</text>
<text x="1156.4" y="1283" font-size="20" textLength="43" lengthAdjust="spacingAndGlyphs">(111)</text>
<text x="1199.5" y="1288" font-size="12" textLength="30" lengthAdjust="spacingAndGlyphs">Twin</text>
<text x="1025.6" y="1306.8" font-size="21" font-weight="bold">Σ3</text>

<rect x="725.5" y="1071.6" width="702.5" height="406" fill="none" stroke="#000" stroke-width="2.6"/>
<g stroke="#000" stroke-width="1.6">
  <line x1="725.5" y1="1477.6" x2="732.5" y2="1477.6"/><line x1="725.5" y1="1396.4" x2="732.5" y2="1396.4"/>
  <line x1="725.5" y1="1315.2" x2="732.5" y2="1315.2"/><line x1="725.5" y1="1234" x2="732.5" y2="1234"/>
  <line x1="725.5" y1="1152.8" x2="732.5" y2="1152.8"/>
  <line x1="725.5" y1="1437" x2="730.5" y2="1437"/><line x1="725.5" y1="1355.8" x2="730.5" y2="1355.8"/>
  <line x1="725.5" y1="1274.6" x2="730.5" y2="1274.6"/><line x1="725.5" y1="1193.4" x2="730.5" y2="1193.4"/>
  <line x1="725.5" y1="1112.2" x2="730.5" y2="1112.2"/>
</g>
<g font-size="21" font-weight="bold" text-anchor="end">
  <text x="716" y="1484.1">0</text>
  <text x="716" y="1402.9">2</text>
  <text x="716" y="1321.7">4</text>
  <text x="716" y="1240.5">6</text>
  <text x="716" y="1159.3">8</text>
  <text x="716" y="1078.1">10</text>
</g>
<g font-size="20" font-weight="bold">
  <text transform="translate(752.7,1483) rotate(90)">3</text>
  <text transform="translate(790,1483) rotate(90)">7</text>
  <text transform="translate(827.3,1483) rotate(90)">9</text>
  <text transform="translate(864.5,1483) rotate(90)">11</text>
  <text transform="translate(901.8,1483) rotate(90)">13b</text>
  <text transform="translate(939.1,1483) rotate(90)">15</text>
  <text transform="translate(976.4,1483) rotate(90)">17b</text>
  <text transform="translate(1013.7,1483) rotate(90)">19b</text>
  <text transform="translate(1050.9,1483) rotate(90)">23</text>
  <text transform="translate(1088.2,1483) rotate(90)">25a</text>
  <text transform="translate(1125.5,1483) rotate(90)">25b</text>
  <text transform="translate(1162.8,1483) rotate(90)">29b</text>
  <text transform="translate(1200.1,1483) rotate(90)">33c</text>
  <text transform="translate(1237.3,1483) rotate(90)">35b</text>
  <text transform="translate(1274.6,1483) rotate(90)">37c</text>
  <text transform="translate(1311.9,1483) rotate(90)">41c</text>
  <text transform="translate(1349.2,1483) rotate(90)">45c</text>
  <text transform="translate(1386.5,1483) rotate(90)">49a</text>
</g>
<text x="1076.3" y="1541.4" font-size="23" font-weight="bold" text-anchor="middle" textLength="182" lengthAdjust="spacingAndGlyphs">CSL boundary(Σ)</text>
<text transform="translate(689,1273.5) rotate(-90)" font-size="23" font-weight="bold" text-anchor="middle" textLength="149" lengthAdjust="spacingAndGlyphs">Frequency(%)</text>
</svg>
</body></html>
